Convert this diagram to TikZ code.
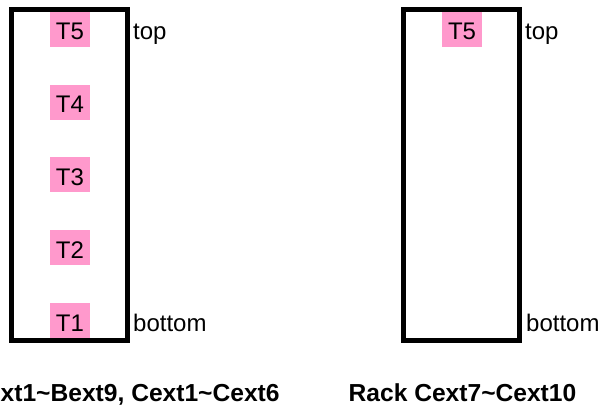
\documentclass[tikz,border=0pt]{standalone}
\usepackage{fontspec}
\setmainfont{Liberation Sans}
\definecolor{tpink}{RGB}{255,153,204}
\begin{document}
\begin{tikzpicture}[x=1pt,y=-1pt,
  rack/.style={draw=black,line width=4.7pt,minimum width=115.8pt,minimum height=330.8pt,inner sep=0pt},
  tlabel/.style={fill=tpink,anchor=base,minimum width=40pt,text height=28pt,text depth=7pt,inner xsep=0pt,inner ysep=0pt,font=\fontsize{24}{28}\selectfont},
  side/.style={anchor=base west,inner sep=0pt,font=\fontsize{24}{28}\selectfont},
  caption/.style={anchor=base,inner sep=0pt,font=\fontsize{24.6}{28}\selectfont\bfseries}]
\useasboundingbox (0,0) rectangle (602,406);
% left rack labels
\node[tlabel] (L5) at (70,40) {T5};
\node[tlabel] (L4) at (70,112.75) {T4};
\node[tlabel] (L3) at (70,185.5) {T3};
\node[tlabel] (L2) at (70,258.25) {T2};
\node[tlabel] (L1) at (70,331) {T1};
\node[rack] (rackL) at (69.6,175.2) {};
\node[side] (Ltop) at (133,40) {top};
\node[side] (Lbot) at (133,331) {bottom};
% right rack
\node[tlabel] (R5) at (462,40) {T5};
\node[rack] (rackR) at (461.6,175.2) {};
\node[side] (Rtop) at (525,40) {top};
\node[side] (Rbot) at (526,331) {bottom};
% captions
\node[caption,anchor=base west] (capL) at (0.5,401.5) {xt1\textasciitilde Bext9, Cext1\textasciitilde Cext6};
\node[caption] (capR) at (462.5,401.5) {Rack Cext7\textasciitilde Cext10};
\end{tikzpicture}
\end{document}
